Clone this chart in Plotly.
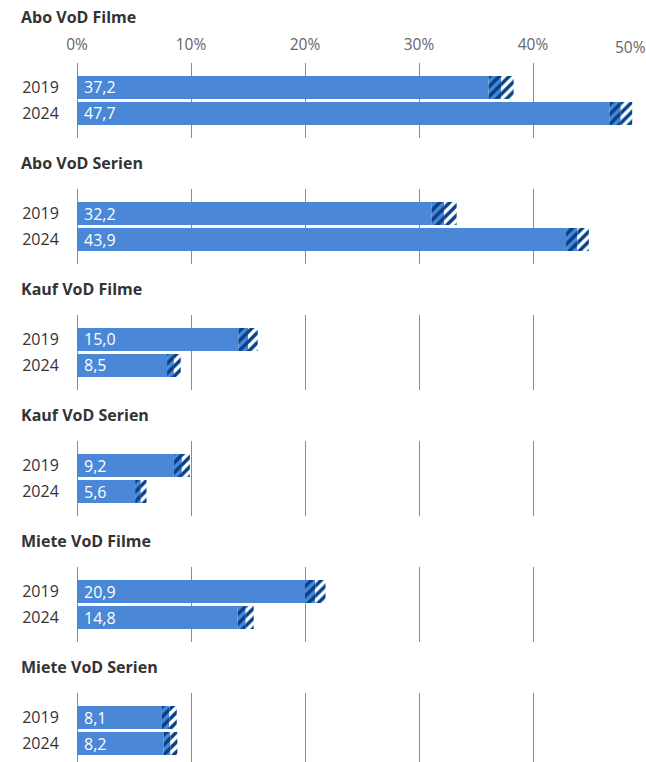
import plotly.graph_objects as go
from plotly.subplots import make_subplots

panels = ["Abo VoD Filme", "Abo VoD Serien", "Kauf VoD Filme",
          "Kauf VoD Serien", "Miete VoD Filme", "Miete VoD Serien"]
years = ["2019", "2024"]
values_2019 = [37.2, 32.2, 15.0, 9.2, 20.9, 8.1]
values_2024 = [47.7, 43.9, 8.5, 5.6, 14.8, 8.2]
margin_2019 = [1.1, 1.1, 0.85, 0.7, 0.9, 0.65]
margin_2024 = [1.0, 1.0, 0.6, 0.5, 0.7, 0.6]
tick_vals = [0, 10, 20, 30, 40]
tick_text = ["0%", "10%", "20%", "30%", "40%"]

BLUE = "#4a87d6"
DARK = "#053f86"
W, H = 646, 762
LEFT = 77
PX_PER_PCT = 11.4

fig = make_subplots(rows=6, cols=1)

x_max = (W - LEFT) / PX_PER_PCT

for k, name in enumerate(panels):
    r = k + 1
    vals = [values_2019[k], values_2024[k]]
    errs = [margin_2019[k], margin_2024[k]]
    lows = [v - e for v, e in zip(vals, errs)]
    ypos = [0, 1]

    # solid part
    fig.add_trace(go.Bar(x=lows, y=ypos, base=[0, 0], orientation="h",
                         width=0.885, marker=dict(color=BLUE, line_width=0),
                         showlegend=False, hoverinfo="skip"), row=r, col=1)
    # hatched inside the value
    fig.add_trace(go.Bar(x=errs, y=ypos, base=lows, orientation="h",
                         width=0.885,
                         marker=dict(color=BLUE, line_width=0,
                                     pattern=dict(shape="/", fgcolor=DARK, bgcolor=BLUE,
                                                  size=7, solidity=0.5, fillmode="replace")),
                         showlegend=False, hoverinfo="skip"), row=r, col=1)
    # hatched beyond the value
    fig.add_trace(go.Bar(x=errs, y=ypos, base=vals, orientation="h",
                         width=0.885,
                         marker=dict(color="white", line_width=0,
                                     pattern=dict(shape="/", fgcolor=DARK, bgcolor="white",
                                                  size=7, solidity=0.5, fillmode="replace")),
                         showlegend=False, hoverinfo="skip"), row=r, col=1)

    # value labels
    xref = "x" if k == 0 else f"x{r}"
    yref = "y" if k == 0 else f"y{r}"
    for yi, v in zip(ypos, vals):
        fig.add_annotation(x=0, y=yi, xref=xref, yref=yref, text=f"{v:.1f}".replace(".", ","),
                           showarrow=False, xanchor="left", xshift=5,
                           font=dict(size=16, color="white"))

    # panel geometry in pixels
    top = 63 + 126 * k
    bottom = min(138 + 126 * k, H)
    dom = [1 - bottom / H, 1 - top / H]
    yrange = [(bottom - top - 24.5) / 26, -24.5 / 26]

    fig.update_yaxes(domain=dom, range=yrange, tickvals=ypos, ticktext=years,
                     showgrid=False, zeroline=False, showline=False,
                     ticks="outside", ticklen=14, tickcolor="rgba(0,0,0,0)",
                     tickfont=dict(size=16, color="#333333"), row=r, col=1)
    fig.update_xaxes(range=[0, x_max], tickvals=tick_vals, ticktext=tick_text,
                     showgrid=True, gridcolor="#8c8c8c", gridwidth=1,
                     zeroline=True, zerolinecolor="#8c8c8c", zerolinewidth=1,
                     showline=False, side="top",
                     showticklabels=(k == 0), ticks="outside", ticklen=6,
                     tickcolor="rgba(0,0,0,0)",
                     tickfont=dict(size=15.5, color="#666666"), row=r, col=1)

    # panel title
    fig.add_annotation(x=(19 - LEFT) / (W - LEFT), y=1 - (17 + 126 * k + (0 if k == 0 else 20)) / H,
                       xref="paper", yref="paper", text=f"<b>{name}</b>",
                       showarrow=False, xanchor="left", yanchor="middle",
                       font=dict(size=16, color="#333333"))

# the 50% label sits at the right edge (its gridline is just outside the picture)
fig.add_annotation(x=1, y=1 - 47 / H, xref="paper", yref="paper", text="50%",
                   showarrow=False, xanchor="right", yanchor="middle", xshift=2,
                   font=dict(size=15.5, color="#666666"))

fig.update_layout(
    width=W, height=H,
    margin=dict(l=LEFT, r=0, t=0, b=0),
    barmode="overlay",
    plot_bgcolor="white", paper_bgcolor="white",
    font=dict(family="Open Sans"),
)

fig.write_html("out.html", config={"displayModeBar": False},
               post_script="document.body.style.margin='0px';")
